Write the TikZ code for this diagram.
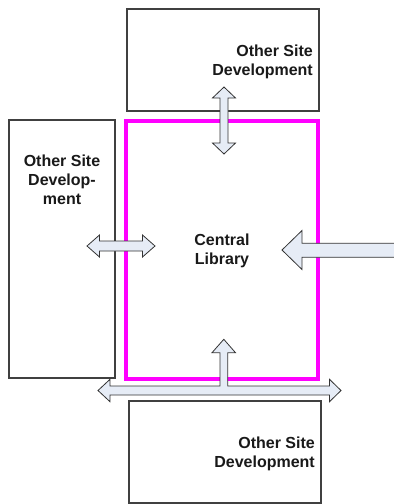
\documentclass[tikz,border=0pt]{standalone}
\usepackage{fontspec}
\setmainfont{Liberation Sans}
\definecolor{boxgray}{HTML}{404040}
\definecolor{arrowfill}{HTML}{E6ECF6}
\definecolor{libmag}{HTML}{FF00FF}
\tikzset{
  sitebox/.style={draw=boxgray, line width=2.5pt, fill=white, inner sep=0pt},
  libbox/.style={draw=libmag, line width=4.5pt, inner sep=0pt},
  blockarrow/.style={draw=black!80, fill=arrowfill, line width=0.8pt, line join=miter},
  lbl/.style={font=\bfseries\fontsize{16}{19}\selectfont, text=black!90, inner sep=0pt}
}
\begin{document}
\begin{tikzpicture}[x=1pt,y=-1pt]
\useasboundingbox (0,0) rectangle (394,504);
% boxes
\node[sitebox, minimum width=192pt, minimum height=102pt] (topbox) at (223,60) {};
\node[sitebox, minimum width=106pt, minimum height=258pt] (leftbox) at (62,249) {};
\node[sitebox, minimum width=192pt, minimum height=102pt] (botbox) at (225,452) {};
\node[libbox, minimum width=192pt, minimum height=258pt] (lib) at (222,250) {};
% labels (base anchor = last line)
\node[lbl, align=right, anchor=base east] (toplbl) at (313,75) {Other Site\\Development};
\node[lbl, align=center, anchor=base] (leftlbl) at (62,204) {Other Site\\Develop-\\ment};
\node[lbl, align=center, anchor=base] (liblbl) at (222,264) {Central\\Library};
\node[lbl, align=right, anchor=base east] (botlbl) at (315,467) {Other Site\\Development};
% top double arrow
\draw[blockarrow] (224,87) -- (235.5,98) -- (228,98) -- (228,143) -- (235.5,143) -- (224,154)
  -- (212.5,143) -- (220,143) -- (220,98) -- (212.5,98) -- cycle;
% left double arrow
\draw[blockarrow] (87,246) -- (99.5,235) -- (99.5,241) -- (142.5,241) -- (142.5,235) -- (155,246)
  -- (142.5,257) -- (142.5,251) -- (99.5,251) -- (99.5,257) -- cycle;
% right incoming arrow
\draw[blockarrow] (282,250) -- (302,230.5) -- (302,243.3) -- (396,243.3) -- (396,257.3)
  -- (302,257.3) -- (302,269.5) -- cycle;
% bottom T arrow
\draw[blockarrow] (98,390.5) -- (110,379.3) -- (110,386) -- (220,386) -- (220,352.7) -- (212,352.7)
  -- (223.8,339.3) -- (235.5,352.7) -- (227.7,352.7) -- (227.7,386) -- (329.5,386) -- (329.5,379.3)
  -- (341,390.5) -- (329.5,401.7) -- (329.5,395) -- (110,395) -- (110,401.7) -- cycle;
\end{tikzpicture}
\end{document}
